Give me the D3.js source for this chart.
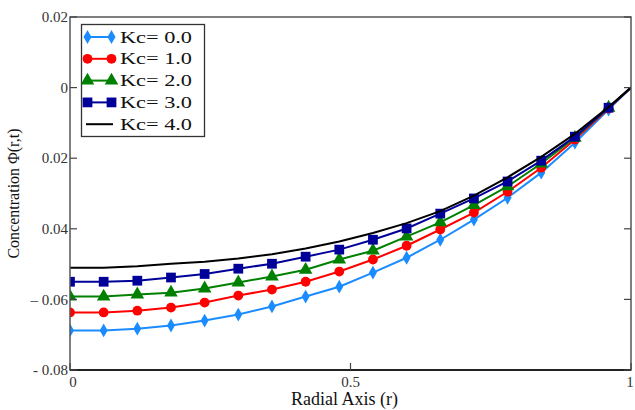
<!DOCTYPE html>
<html lang="en">
<head>
<meta charset="UTF-8">
<title>Concentration vs Radial Axis</title>
<script src="https://d3js.org/d3.v7.min.js"></script>
<style>
  body { margin: 0; background: #fff; }
  svg { display: block; font-family: "Liberation Serif", "Times New Roman", serif; }
  .tick-label { font-size: 15px; fill: #333; }
  .axis-title { font-size: 18px; fill: #111; }
  .legend text { font-size: 16px; fill: #111; }
</style>
</head>
<body>
<svg width="635" height="410"></svg>
<script>
// radial positions (markers every 0.06, curve closes at r = 1)
const rValues = [0, 0.06, 0.12, 0.18, 0.24, 0.30, 0.36, 0.42, 0.48, 0.54, 0.60, 0.66, 0.72, 0.78, 0.84, 0.90, 0.96, 1.0];

const kc0 = [-0.0688, -0.0688, -0.0683, -0.0674, -0.0660, -0.0643, -0.0620, -0.0592, -0.0564, -0.0524, -0.0482, -0.0431, -0.0374, -0.0312, -0.0241, -0.0156, -0.0062, 0];
const kc1 = [-0.0637, -0.0637, -0.0632, -0.0623, -0.0609, -0.0589, -0.0572, -0.0550, -0.0521, -0.0487, -0.0448, -0.0402, -0.0354, -0.0295, -0.0227, -0.0147, -0.0059, 0];
const kc2 = [-0.0592, -0.0592, -0.0586, -0.0581, -0.0569, -0.0552, -0.0535, -0.0516, -0.0487, -0.0462, -0.0422, -0.0382, -0.0333, -0.0280, -0.0215, -0.0142, -0.0057, 0];
const kc3 = [-0.0550, -0.0550, -0.0547, -0.0538, -0.0528, -0.0513, -0.0499, -0.0479, -0.0459, -0.0431, -0.0399, -0.0357, -0.0314, -0.0266, -0.0207, -0.0139, -0.0057, 0];
const kc4 = [-0.0510, -0.0510, -0.0506, -0.0499, -0.0493, -0.0484, -0.0472, -0.0456, -0.0436, -0.0412, -0.0384, -0.0350, -0.0306, -0.0254, -0.0196, -0.0131, -0.0055, 0];

const seriesNames = ["Kc= 0.0", "Kc= 1.0", "Kc= 2.0", "Kc= 3.0", "Kc= 4.0"];
const seriesValues = [kc0, kc1, kc2, kc3, kc4];
const seriesColors = ["#1a8cff", "#ff0000", "#008000", "#000099", "#000000"];
const seriesMarkers = [d3.symbolDiamond, d3.symbolCircle, d3.symbolTriangle, d3.symbolSquare, null];
const markerSizes = [55, 75, 80, 95, 0];

const xTicks = [0, 0.5, 1];
const xTickLabels = ["0", "0.5", "1"];
const yTicks = [0.02, 0, -0.02, -0.04, -0.06, -0.08];
const yTickLabels = ["0.02", "0", "0.02", "0.04", "\u2013 0.06", "- 0.08"];

const svg = d3.select("svg");
const margin = { left: 70, right: 4, top: 17, bottom: 40 };
const W = 635, H = 410;

const x = d3.scaleLinear().domain([0, 1]).range([margin.left, W - margin.right]);
const y = d3.scaleLinear().domain([-0.08, 0.02]).range([H - margin.bottom, margin.top]);

svg.append("clipPath").attr("id", "plot-clip")
  .append("rect")
  .attr("x", x(0)).attr("y", y(0.02))
  .attr("width", x(1) - x(0)).attr("height", y(-0.08) - y(0.02));

const plot = svg.append("g").attr("clip-path", "url(#plot-clip)");

const line = d3.line().x(d => x(d[0])).y(d => y(d[1]));

seriesValues.forEach((vals, i) => {
  const pts = rValues.map((r, j) => [r, vals[j]]);
  plot.append("path")
    .attr("d", line(pts))
    .attr("fill", "none")
    .attr("stroke", seriesColors[i])
    .attr("stroke-width", 2);
  if (seriesMarkers[i]) {
    plot.selectAll(null)
      .data(pts.slice(0, pts.length - 1))
      .enter().append("path")
      .attr("transform", d => `translate(${x(d[0])},${y(d[1])})`)
      .attr("d", d3.symbol().type(seriesMarkers[i]).size(markerSizes[i]))
      .attr("fill", seriesColors[i]);
  }
});

// frame
svg.append("rect")
  .attr("x", x(0)).attr("y", y(0.02))
  .attr("width", x(1) - x(0)).attr("height", y(-0.08) - y(0.02))
  .attr("fill", "none").attr("stroke", "#555").attr("stroke-width", 1.5);
svg.append("line")
  .attr("x1", x(0)).attr("x2", x(1))
  .attr("y1", y(-0.08)).attr("y2", y(-0.08))
  .attr("stroke", "#222").attr("stroke-width", 2);

// inward ticks, left and right
yTicks.forEach(t => {
  svg.append("line").attr("x1", x(0)).attr("x2", x(0) + 7)
    .attr("y1", y(t)).attr("y2", y(t)).attr("stroke", "#444").attr("stroke-width", 1.2);
  svg.append("line").attr("x1", x(1)).attr("x2", x(1) - 7)
    .attr("y1", y(t)).attr("y2", y(t)).attr("stroke", "#444").attr("stroke-width", 1.2);
});
xTicks.forEach(t => {
  svg.append("line").attr("x1", x(t)).attr("x2", x(t))
    .attr("y1", y(-0.08)).attr("y2", y(-0.08) - 7).attr("stroke", "#444").attr("stroke-width", 1.2);
});

// tick labels
svg.selectAll(".ylab").data(yTicks).enter().append("text")
  .attr("class", "tick-label")
  .attr("x", x(0) - 2).attr("y", d => y(d)).attr("dy", "0.35em")
  .attr("text-anchor", "end")
  .text((d, i) => yTickLabels[i]);

svg.selectAll(".xlab").data(xTicks).enter().append("text")
  .attr("class", "tick-label")
  .attr("x", (d, i) => x(d) + (i === 0 ? 3 : i === 2 ? -1 : 0))
  .attr("y", y(-0.08) + 17)
  .attr("text-anchor", "middle")
  .text((d, i) => xTickLabels[i]);

// axis titles
svg.append("text").attr("class", "axis-title")
  .attr("x", (x(0) + x(1)) / 2 - 6).attr("y", H - 5)
  .attr("text-anchor", "middle")
  .text("Radial Axis (r)");

svg.append("text").attr("class", "axis-title")
  .attr("transform", `translate(19,${(y(0.02) + y(-0.08)) / 2}) rotate(-90)`)
  .attr("text-anchor", "middle")
  .style("font-size", "16px")
  .text("Concentration \u03A6(r,t)");

// legend
const legend = svg.append("g").attr("class", "legend");
legend.append("rect")
  .attr("x", 81.5).attr("y", 24.5).attr("width", 123).attr("height", 112)
  .attr("fill", "#fff").attr("stroke", "#333").attr("stroke-width", 1.3);

seriesNames.forEach((name, i) => {
  const ly = 37 + i * 21.8;
  legend.append("line")
    .attr("x1", 86).attr("x2", 113).attr("y1", ly).attr("y2", ly)
    .attr("stroke", seriesColors[i]).attr("stroke-width", 2);
  if (seriesMarkers[i]) {
    [87.5, 111.5].forEach(mx => {
      legend.append("path")
        .attr("transform", `translate(${mx},${ly})`)
        .attr("d", d3.symbol().type(seriesMarkers[i]).size(markerSizes[i]))
        .attr("fill", seriesColors[i]);
    });
  }
  legend.append("text")
    .attr("x", 120).attr("y", ly).attr("dy", "0.35em")
    .attr("textLength", 72).attr("lengthAdjust", "spacingAndGlyphs")
    .text(name);
});
</script>
</body>
</html>
